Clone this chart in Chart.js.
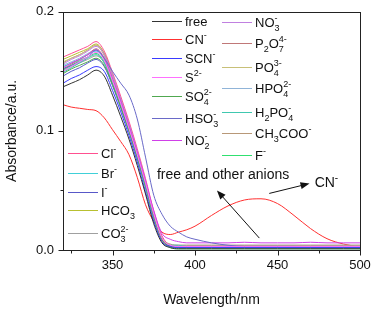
<!DOCTYPE html>
<html>
<head>
<meta charset="utf-8">
<script src="https://cdn.jsdelivr.net/npm/chart.js@4.4.0/dist/chart.umd.min.js"></script>
<style>
    html, body { margin: 0; padding: 0; background: #fff; }
</style>
</head>
<body>
<canvas id="chart" width="377" height="311"></canvas>
<script>
// wavelength grid (nm)
var wavelengths = [320, 325, 330, 335, 340, 345, 350, 355, 360, 365, 370, 375, 380, 385, 390, 395, 400, 410, 420, 430, 440, 450, 460, 470, 480, 490, 500];

// absorbance values
var absFree   = [.137, .140, .143, .147, .151, .146, .130, .112, .093, .071, .047, .022, .006, .002, .001, .001, .001, .001, .001, .001, .001, .001, .001, .001, .001, .001, .001];
var absCN     = [.122, .120, .119, .118, .117, .111, .101, .091, .080, .061, .038, .024, .015, .013, .015, .017, .020, .029, .037, .042, .043, .039, .029, .018, .0095, .005, .0025];
var absSCN    = [.140, .144, .147, .151, .154, .150, .134, .116, .096, .074, .049, .024, .007, .003, .002, .002, .002, .002, .002, .002, .002, .002, .002, .002, .002, .002, .002];
var absS      = [.150, .154, .158, .162, .166, .159, .142, .123, .102, .080, .056, .030, .010, .004, .003, .003, .003, .003, .003, .003, .003, .003, .003, .003, .003, .003, .003];
var absSO4    = [.148, .152, .155, .158, .161, .155, .139, .120, .100, .078, .054, .028, .009, .003, .002, .002, .002, .002, .002, .002, .002, .002, .002, .002, .002, .002, .002];
var absHSO3   = [.152, .155, .158, .162, .168, .161, .150, .140, .130, .110, .078, .046, .030, .020, .015, .011, .009, .006, .004, .003, .003, .003, .003, .002, .002, .002, .002];
var absNO2    = [.153, .157, .160, .164, .168, .161, .144, .125, .104, .082, .058, .033, .014, .009, .007, .006, .006, .006, .006, .0065, .006, .006, .006, .0065, .006, .006, .006];
var absNO3    = [.156, .160, .163, .167, .171, .164, .147, .127, .106, .083, .058, .031, .010, .004, .003, .003, .003, .003, .003, .003, .003, .003, .003, .003, .003, .003, .003];
var absP2O7   = [.152, .156, .160, .164, .169, .161, .143, .124, .103, .081, .056, .029, .009, .003, .002, .002, .002, .002, .002, .002, .002, .002, .002, .002, .002, .002, .002];
var absPO4    = [.158, .161, .164, .168, .172, .163, .145, .125, .104, .081, .056, .029, .008, .003, .002, .002, .002, .002, .002, .002, .002, .002, .002, .002, .002, .002, .002];
var absHPO4   = [.155, .158, .161, .165, .168, .160, .143, .123, .102, .080, .055, .028, .008, .003, .002, .002, .002, .002, .002, .002, .002, .002, .002, .002, .002, .002, .002];
var absH2PO4  = [.149, .153, .157, .161, .164, .157, .140, .121, .100, .078, .053, .027, .008, .004, .004, .003, .003, .003, .003, .003, .003, .003, .003, .003, .003, .003, .003];
var absCH3COO = [.157, .161, .164, .168, .172, .165, .147, .126, .105, .082, .057, .030, .010, .005, .004, .004, .004, .004, .004, .004, .004, .004, .004, .004, .004, .004, .004];
var absF      = [.151, .155, .159, .162, .165, .158, .141, .122, .101, .079, .054, .028, .008, .002, .001, .001, .001, .001, .001, .001, .001, .001, .001, .001, .001, .001, .001];
var absCl     = [.162, .165, .168, .171, .175, .167, .149, .129, .108, .085, .060, .033, .012, .004, .003, .003, .003, .003, .003, .003, .003, .003, .003, .003, .003, .003, .003];
var absBr     = [.154, .157, .160, .164, .167, .160, .142, .122, .101, .079, .054, .028, .008, .003, .002, .002, .002, .002, .002, .002, .002, .002, .002, .002, .002, .002, .002];
var absI      = [.146, .150, .153, .157, .160, .154, .138, .119, .099, .077, .053, .027, .008, .003, .002, .002, .002, .002, .002, .002, .002, .002, .002, .002, .002, .002, .002];
var absHCO3   = [.160, .163, .166, .169, .173, .165, .147, .127, .106, .083, .058, .031, .010, .004, .003, .003, .003, .003, .003, .003, .003, .003, .003, .003, .003, .003, .003];
var absCO3    = [.150, .154, .157, .160, .163, .157, .140, .121, .100, .078, .053, .027, .008, .004, .004, .004, .004, .004, .004, .004, .004, .004, .004, .004, .004, .004, .004];

// labels use _x for subscript and ^x for superscript
var labels = ['free', 'CN^-', 'SCN^-', 'S^{2-}', 'SO_4^{2-}', 'HSO_3^-', 'NO_2^-',
              'NO_3^-', 'P_2O_7^{4-}', 'PO_4^{3-}', 'HPO_4^{2-}', 'H_2PO_4^-', 'CH_3COO^-', 'F^-',
              'Cl^-', 'Br^-', 'I^-', 'HCO_3', 'CO_3^{2-}'];
var values = [absFree, absCN, absSCN, absS, absSO4, absHSO3, absNO2,
              absNO3, absP2O7, absPO4, absHPO4, absH2PO4, absCH3COO, absF,
              absCl, absBr, absI, absHCO3, absCO3];
var colors = ['#333333', '#ff3030', '#3a3aff', '#ff70ff', '#50a850', '#6a6ac8', '#d040e8',
              '#c080e0', '#c07878', '#c8c078', '#90b4d8', '#40c8b0', '#b89878', '#30e070',
              '#ff5090', '#40d0d8', '#5858c8', '#b8c030', '#a0a0a0'];

var xMajor = [350, 400, 450, 500], xMinor = [325, 375, 425, 475];
var yMajor = [0, 0.1, 0.2], yMinor = [0.05, 0.15];

var FONT = "'Liberation Sans', Arial, sans-serif";

function drawRich(ctx, text, x, y, size) {
    // y is the baseline
    var small = Math.round(size * 0.68);
    var i = 0, subStart = null, subEnd = null;
    while (i < text.length) {
        var c = text[i];
        if (c === '_' || c === '^') {
            var s;
            if (text[i + 1] === '{') {
                var j = text.indexOf('}', i);
                s = text.substring(i + 2, j);
                i = j + 1;
            } else {
                s = text[i + 1];
                i += 2;
            }
            ctx.font = small + 'px ' + FONT;
            var w = ctx.measureText(s).width;
            if (c === '_') {
                ctx.fillText(s, x, y + 4);
                subStart = x; subEnd = x + w;
                x += w;
            } else {
                var sx = subStart !== null && subEnd === x ? subStart : x;
                ctx.fillText(s, sx, y - 6);
                x = Math.max(x, sx + w);
                subStart = null;
            }
        } else {
            ctx.font = size + 'px ' + FONT;
            ctx.fillText(c, x, y);
            x += ctx.measureText(c).width;
            subStart = null;
            i++;
        }
    }
}

function arrow(ctx, x1, y1, x2, y2) {
    var ang = Math.atan2(y2 - y1, x2 - x1), L = 9, W = 3.5;
    ctx.beginPath();
    ctx.moveTo(x1, y1);
    ctx.lineTo(x2 - L * Math.cos(ang) * 0.8, y2 - L * Math.sin(ang) * 0.8);
    ctx.stroke();
    ctx.beginPath();
    ctx.moveTo(x2, y2);
    ctx.lineTo(x2 - L * Math.cos(ang) + W * Math.sin(ang), y2 - L * Math.sin(ang) - W * Math.cos(ang));
    ctx.lineTo(x2 - L * Math.cos(ang) - W * Math.sin(ang), y2 - L * Math.sin(ang) + W * Math.cos(ang));
    ctx.closePath();
    ctx.fill();
}

var framePlugin = {
    id: 'frameTicks',
    afterDraw: function (chart) {
        var ctx = chart.ctx, a = chart.chartArea, xs = chart.scales.x, ys = chart.scales.y;
        ctx.save();
        ctx.strokeStyle = '#222';
        ctx.lineWidth = 1;
        var L = Math.round(a.left) + 0.5, T = Math.round(a.top) + 0.5;
        var R = Math.round(a.right) + 0.5, B = Math.round(a.bottom) + 0.5;
        ctx.strokeRect(L, T, R - L, B - T);
        ctx.beginPath();
        xMajor.concat(xMinor).forEach(function (v) {
            var px = Math.round(xs.getPixelForValue(v)) + 0.5;
            var len = xMajor.indexOf(v) >= 0 ? 5 : 3;
            ctx.moveTo(px, B); ctx.lineTo(px, B + len);
        });
        yMajor.concat(yMinor).forEach(function (v) {
            var py = Math.round(ys.getPixelForValue(v)) + 0.5;
            var len = yMajor.indexOf(v) >= 0 ? 5 : 3;
            ctx.moveTo(L, py); ctx.lineTo(L - len, py);
        });
        ctx.stroke();

        // legend
        ctx.fillStyle = '#111';
        ctx.textBaseline = 'alphabetic';
        var col1 = [21, 39, 58, 77, 96, 118, 140];
        var col2 = [22, 43, 67, 88, 112, 133, 155];
        var col3 = [153, 173, 192, 210, 233];
        function item(idx, lx, ly) {
            ctx.strokeStyle = colors[idx];
            ctx.beginPath();
            ctx.moveTo(lx, Math.round(ly) + 0.5);
            ctx.lineTo(lx + 30, Math.round(ly) + 0.5);
            ctx.stroke();
            ctx.fillStyle = '#111';
            drawRich(ctx, labels[idx], lx + 33, ly + 4.5, 13);
        }
        col1.forEach(function (y, k) { item(k, a.left + 89, y); });
        col2.forEach(function (y, k) { item(k + 7, a.left + 159, y); });
        col3.forEach(function (y, k) { item(k + 14, a.left + 5, y); });

        // annotations, placed in data units
        ctx.strokeStyle = '#111';
        ctx.fillStyle = '#111';
        arrow(ctx, xs.getPixelForValue(439), ys.getPixelForValue(0.010), xs.getPixelForValue(413.3), ys.getPixelForValue(0.050));
        arrow(ctx, xs.getPixelForValue(445), ys.getPixelForValue(0.0475), xs.getPixelForValue(469.4), ys.getPixelForValue(0.0558));
        ctx.font = '14px ' + FONT;
        ctx.textAlign = 'center';
        ctx.fillText('free and other anions', xs.getPixelForValue(417), ys.getPixelForValue(0.064) + 5);
        ctx.textAlign = 'left';
        drawRich(ctx, 'CN^-', xs.getPixelForValue(472.5), ys.getPixelForValue(0.0567) + 5, 14);
        ctx.restore();
    }
};

var datasets = labels.map(function (lab, k) {
    return {
        label: lab,
        data: wavelengths.map(function (w, i) { return { x: w, y: values[k][i] }; }),
        borderColor: colors[k],
        borderWidth: 1,
        pointRadius: 0,
        fill: false,
        cubicInterpolationMode: 'monotone'
    };
});
// draw the red CN- curve on top
var cnSet = datasets.splice(1, 1)[0];
datasets.push(cnSet);

new Chart(document.getElementById('chart'), {
    type: 'line',
    data: { datasets: datasets },
    plugins: [framePlugin],
    options: {
        responsive: false,
        animation: false,
        devicePixelRatio: 1,
        layout: { padding: { top: 10, right: 17, left: 0, bottom: 0 } },
        plugins: { legend: { display: false }, tooltip: { enabled: false } },
        scales: {
            x: {
                type: 'linear',
                min: 320, max: 500,
                afterBuildTicks: function (s) { s.ticks = xMajor.map(function (v) { return { value: v }; }); },
                afterFit: function (s) { s.height = 61; },
                grid: { drawOnChartArea: false, tickLength: 5, tickColor: 'rgba(0,0,0,0)' },
                border: { display: false },
                ticks: { color: '#111', font: { family: FONT, size: 13 }, padding: 3, maxRotation: 0, autoSkip: false },
                title: { display: true, text: 'Wavelength/nm', color: '#111', font: { family: FONT, size: 14 }, padding: { top: 0, bottom: 2 } }
            },
            y: {
                min: 0, max: 0.2,
                afterBuildTicks: function (s) { s.ticks = yMajor.map(function (v) { return { value: v }; }); },
                afterFit: function (s) { s.width = 63; },
                grid: { drawOnChartArea: false, tickLength: 5, tickColor: 'rgba(0,0,0,0)' },
                border: { display: false },
                ticks: {
                    color: '#111', font: { family: FONT, size: 13 }, padding: 4,
                    callback: function (v) { return v.toFixed(1); }
                },
                title: { display: true, text: 'Absorbance/a.u.', color: '#111', font: { family: FONT, size: 14 }, padding: { top: 4, bottom: 0 } }
            }
        }
    }
});
</script>
</body>
</html>
